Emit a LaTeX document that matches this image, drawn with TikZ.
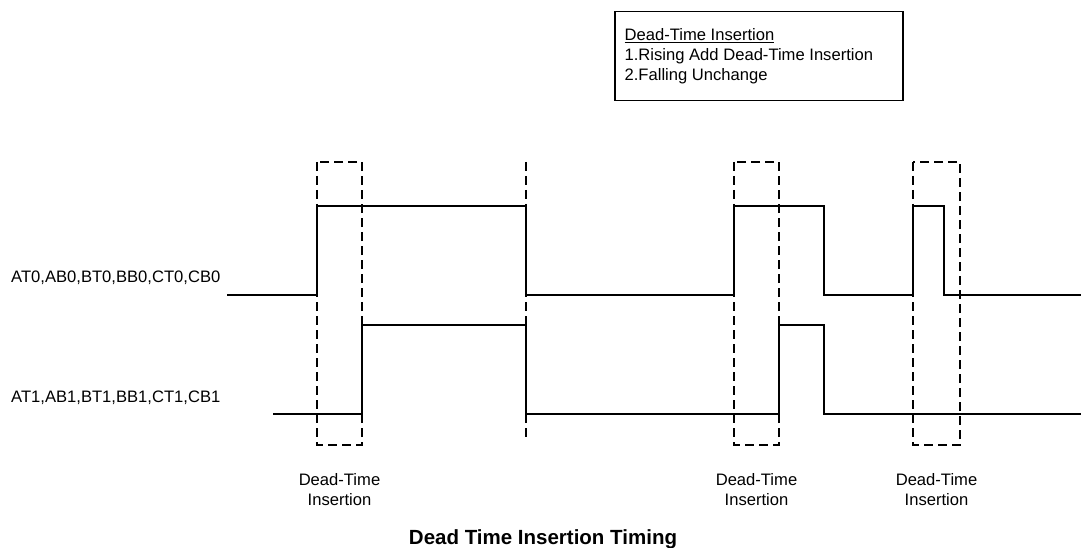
\documentclass[tikz,border=0pt]{standalone}
\usepackage{fontspec}
\setmainfont{Liberation Sans}
\usetikzlibrary{positioning}

\begin{document}
\begin{tikzpicture}[x=1pt,y=-1pt,
    sig/.style={line width=1.6pt,line join=miter},
    dtwin/.style={line width=1.2pt,dash pattern=on 9pt off 5pt},
    txt/.style={font=\fontsize{16.6}{20}\selectfont,inner sep=0pt}]
  \useasboundingbox (0,0) rectangle (1081,548);
  % note box
  \node[draw,line width=1.2pt,minimum width=288pt,minimum height=89pt] (note) at (759,56.2) {};
  \node[txt,align=left,right=10pt of note.west] (notetext)
    {\underline{Dead-Time Insertion}\\1.Rising Add Dead-Time Insertion\\2.Falling Unchange};
  % signal names
  \node[txt,anchor=west] (sigA) at (11,278) {AT0,AB0,BT0,BB0,CT0,CB0};
  \node[txt,anchor=west] (sigB) at (11,398) {AT1,AB1,BT1,BB1,CT1,CB1};
  % waveforms
  \draw[sig] (227,295) -- (317,295) -- (317,206) -- (526,206) -- (526,295) -- (734,295)
    -- (734,206) -- (824,206) -- (824,295) -- (913,295) -- (913,206) -- (944,206)
    -- (944,295) -- (1081,295);
  \draw[sig] (273,414) -- (362,414) -- (362,325) -- (526,325) -- (526,414) -- (779,414)
    -- (779,325) -- (824,325) -- (824,414) -- (1081,414);
  % dead-time windows
  \foreach \xa/\xb/\nm in {317/362/dtA,734/779/dtB,913/960/dtC}{
    \draw[dtwin] (\xa,162) rectangle (\xb,445);
    \node[txt,align=center] (\nm) at ({(\xa+\xb)/2},490) {Dead-Time\\Insertion};
  }
  \draw[dtwin] (526,162) -- (526,439);
  % caption
  \node[font=\fontsize{20.5}{24}\selectfont\bfseries,inner sep=0pt] (caption) at (543,539)
    {Dead Time Insertion Timing};
\end{tikzpicture}
\end{document}
